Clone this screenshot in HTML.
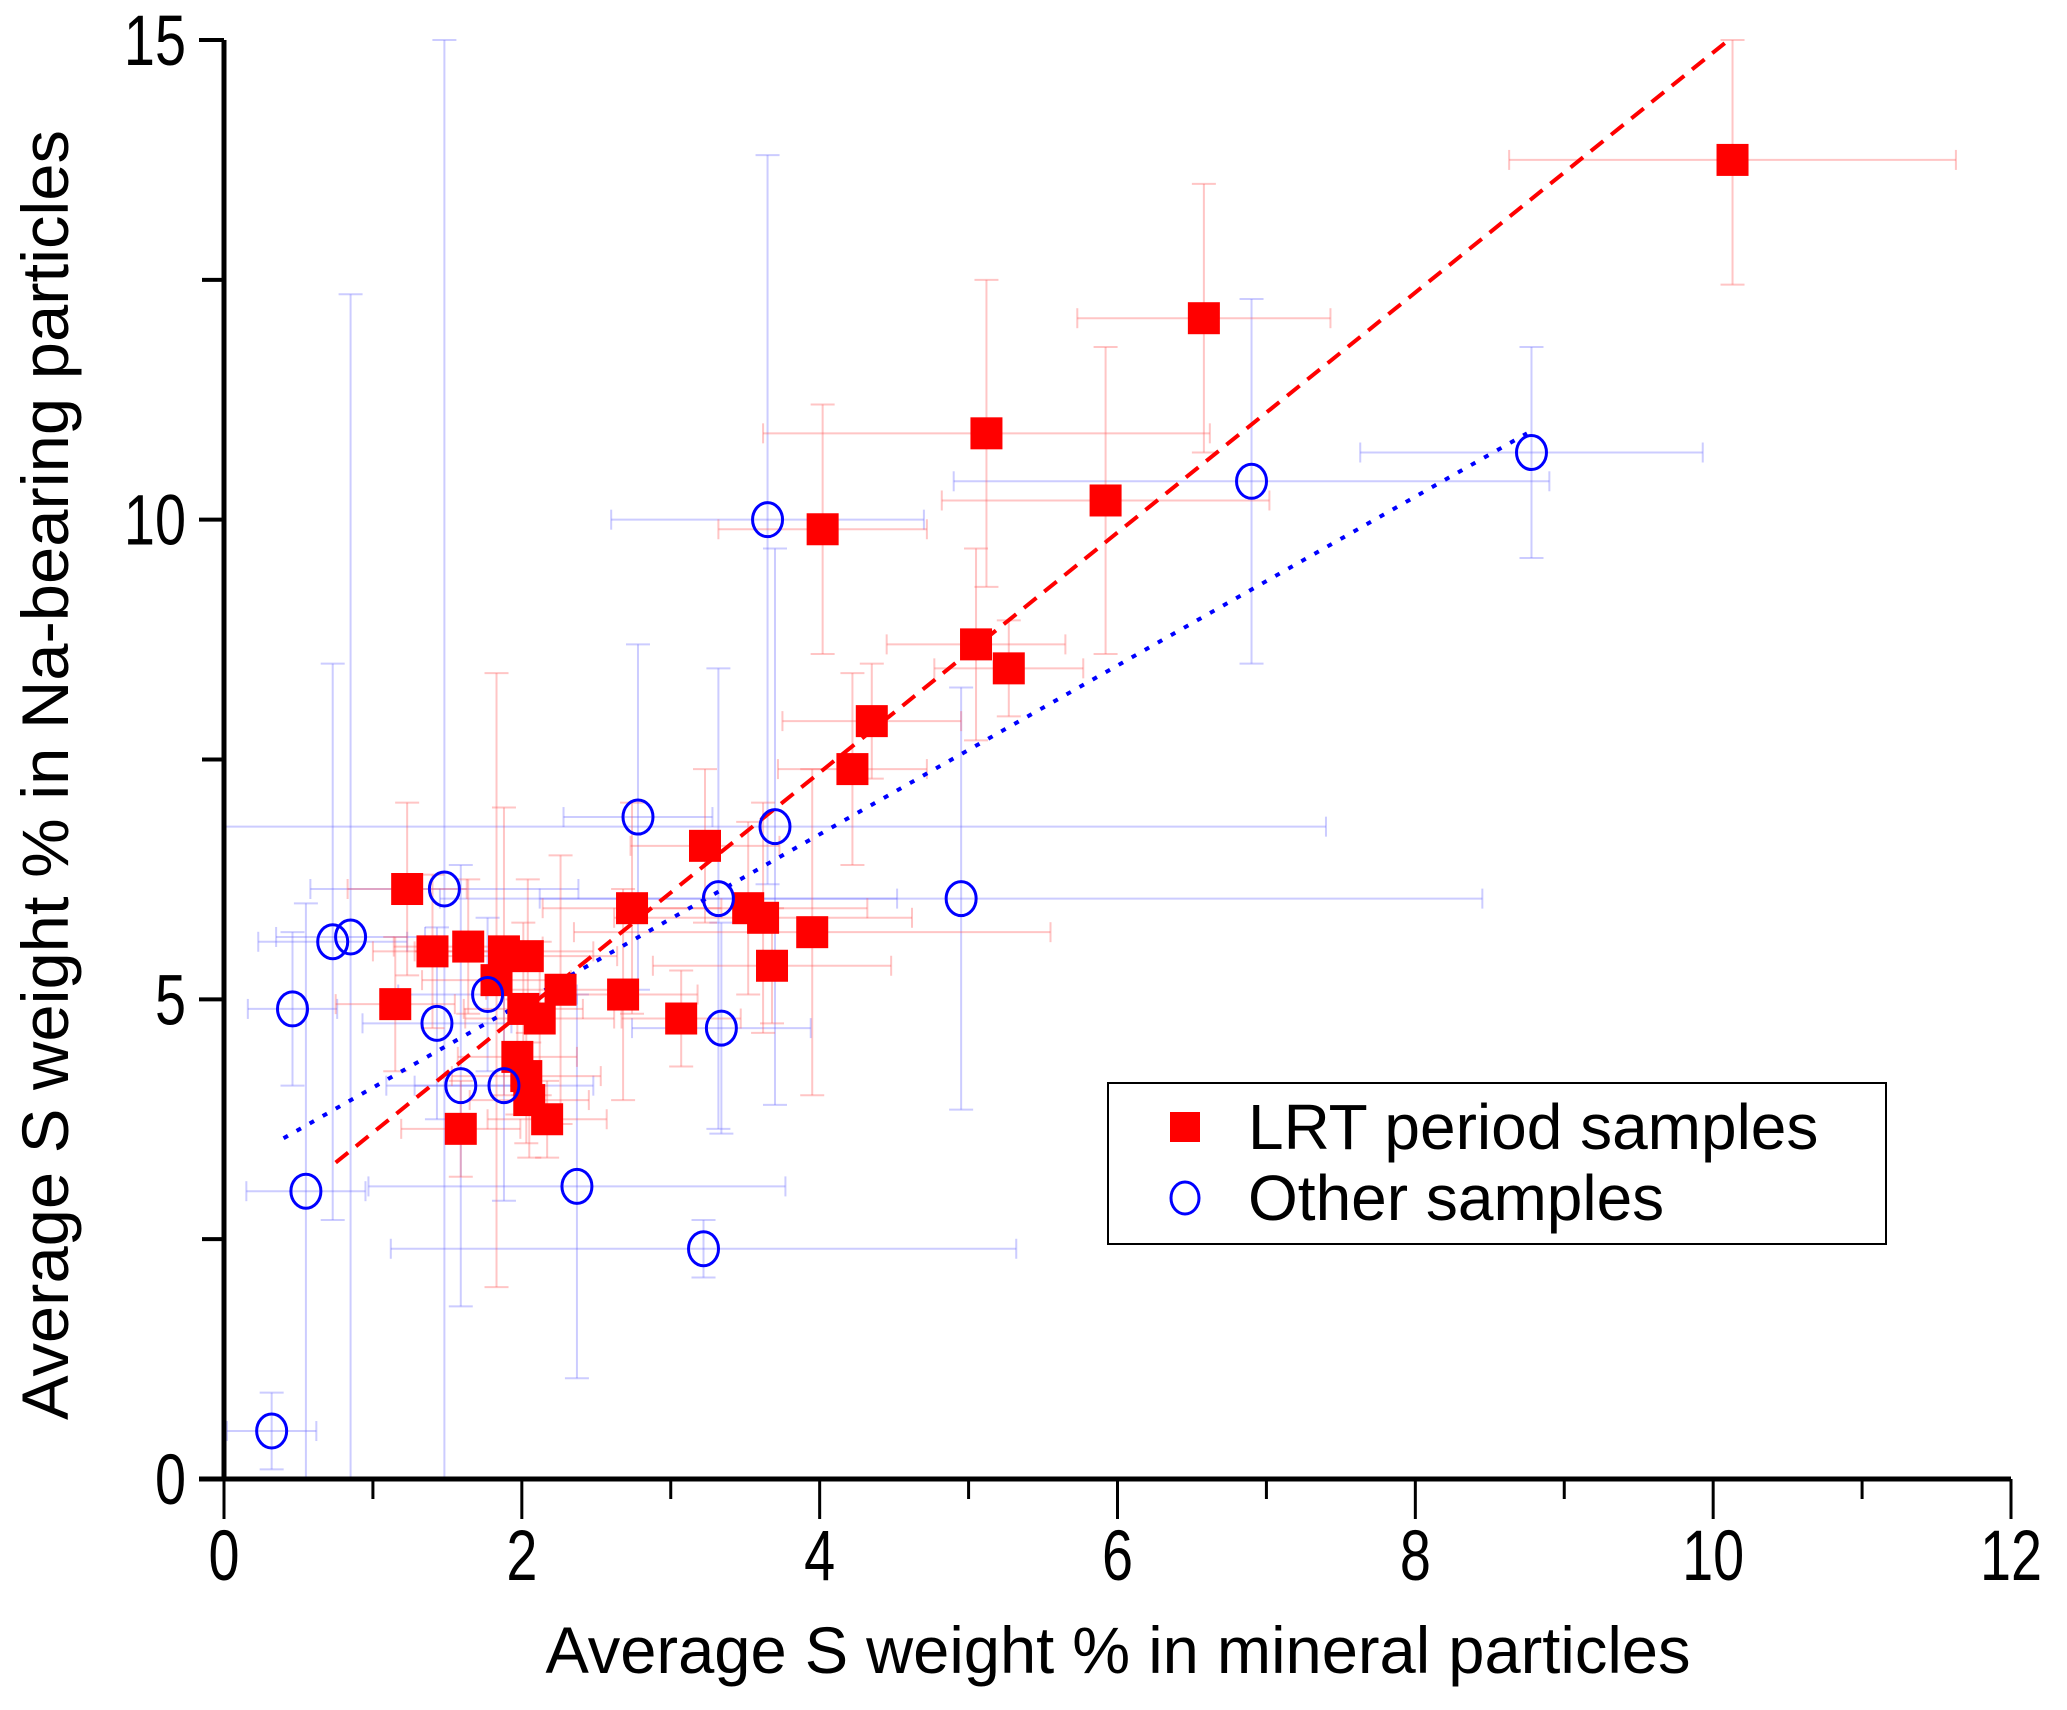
<!DOCTYPE html>
<html><head><meta charset="utf-8"><style>
html,body{margin:0;padding:0;background:#fff;}
svg text{font-family:"Liberation Sans",Arial,sans-serif;}
</style></head><body>
<svg id="chart" width="2067" height="1705" viewBox="0 0 2067 1705" xmlns="http://www.w3.org/2000/svg">
<g id="errs"></g>
<g id="fits"></g>
<g id="marks"></g>
<g id="axes"></g>
<g>
<rect x="1108" y="1083" width="778" height="161" fill="#fff" stroke="#000" stroke-width="2"/>
<rect x="1170" y="1112" width="30" height="30" fill="#f00"/>
<text x="1248" y="1149" font-size="64">LRT period samples</text>
<ellipse cx="1185" cy="1198" rx="14" ry="16" fill="none" stroke="#00f" stroke-width="3"/>
<text x="1248" y="1220" font-size="64">Other samples</text>
</g>
<text x="1118" y="1673" font-size="66" text-anchor="middle" textLength="1145" lengthAdjust="spacingAndGlyphs">Average S weight % in mineral particles</text>
<text transform="translate(68,775) rotate(-90)" font-size="66" text-anchor="middle" textLength="1290" lengthAdjust="spacingAndGlyphs">Average S weight % in Na-bearing particles</text>
</svg>
<script>
// LRT (red) series
const redX = [10.13,6.58,5.12,5.92,4.02,5.05,5.27,4.35,4.22,3.23,2.74,3.52,3.62,3.95,3.68,1.23,1.64,1.40,1.88,2.04,1.83,2.26,2.68,1.15,2.01,2.12,3.07,1.97,2.03,2.05,2.17,1.59];
const redY = [13.75,12.1,10.9,10.2,9.9,8.7,8.45,7.9,7.4,6.6,5.95,5.95,5.85,5.7,5.35,6.15,5.55,5.5,5.5,5.45,5.2,5.1,5.05,4.95,4.9,4.8,4.8,4.4,4.2,3.95,3.75,3.65];
const redXErr = [1.5,0.85,1.5,1.1,0.7,0.6,0.5,0.6,0.5,0.5,0.6,0.8,1.0,1.6,0.8,0.4,0.5,0.4,0.6,0.6,0.5,0.5,0.5,0.4,0.4,0.5,0.4,0.4,0.5,0.4,0.4,0.4];
const redYErr = [1.3,1.4,1.6,1.6,1.3,1.0,0.5,0.6,1.0,0.8,1.1,0.9,1.2,1.7,0.6,0.9,0.7,0.8,1.5,0.8,3.2,1.4,1.1,0.7,0.9,0.8,0.5,0.6,0.7,0.6,0.4,0.5];
// Other (blue) series
const blueX = [0.32,0.55,0.46,0.73,0.85,1.48,1.43,1.59,1.77,1.88,2.37,2.78,3.22,3.32,3.34,3.65,3.70,4.95,6.90,8.78];
const blueY = [0.5,3.0,4.9,5.6,5.65,6.15,4.75,4.1,5.05,4.1,3.05,6.9,2.4,6.05,4.7,10.0,6.8,6.05,10.4,10.7];
const blueXErr = [0.3,0.4,0.3,0.5,0.5,0.9,0.5,0.5,0.6,0.6,1.4,0.5,2.1,1.2,0.6,1.05,3.7,3.5,2.0,1.15];
const blueYErr = [0.4,3.0,0.8,2.9,6.7,8.9,1.0,2.3,0.8,1.2,2.0,1.8,0.3,2.4,1.1,3.8,2.9,2.2,1.9,1.1];
// fit lines [x0, x1, slope, intercept]
const redFit = [0.75,10.1,1.251,2.36];
const blueFit = [0.4,8.75,0.88,3.2];
const xTicks = [0,2,4,6,8,10,12];
const yTicks = [0,5,10,15];

const X0=224, X1=2011, Y0=1479, Y1=40;
const sx = v => X0 + v*(X1-X0)/12;
const sy = v => Y0 - v*(Y0-Y1)/15;
const NS="http://www.w3.org/2000/svg";
function mk(parent, tag, attrs){const e=document.createElementNS(NS,tag);for(const k in attrs)e.setAttribute(k,attrs[k]);parent.appendChild(e);return e;}
const errs=document.getElementById('errs'), marks=document.getElementById('marks'), axes=document.getElementById('axes'), fits=document.getElementById('fits');
function clipY(v){return Math.max(0,Math.min(15,v));}
function errBar(x,y,ex,ey,col){
  const g=mk(errs,'g',{stroke:col,'stroke-width':2,fill:'none'});
  
  
  const xl=Math.max(0,x-ex), xr=x+ex, yb=clipY(y-ey), yt=clipY(y+ey);
  mk(g,'line',{x1:sx(xl),y1:sy(y),x2:sx(xr),y2:sy(y)});
  mk(g,'line',{x1:sx(x),y1:sy(yb),x2:sx(x),y2:sy(yt)});
  mk(g,'line',{x1:sx(x)-12,y1:sy(yb),x2:sx(x)+12,y2:sy(yb)});
  mk(g,'line',{x1:sx(x)-12,y1:sy(yt),x2:sx(x)+12,y2:sy(yt)});
  mk(g,'line',{x1:sx(xl),y1:sy(y)-10,x2:sx(xl),y2:sy(y)+10});
  mk(g,'line',{x1:sx(xr),y1:sy(y)-10,x2:sx(xr),y2:sy(y)+10});
}
blueX.forEach((x,i)=>errBar(x,blueY[i],blueXErr[i],blueYErr[i],'rgba(110,110,255,0.35)'));
redX.forEach((x,i)=>errBar(x,redY[i],redXErr[i],redYErr[i],'rgba(255,90,90,0.35)'));
function fit(f,col,dash,name){
  const l=mk(fits,'line',{x1:sx(f[0]),y1:sy(f[2]*f[0]+f[3]),x2:sx(f[1]),y2:sy(f[2]*f[1]+f[3]),stroke:col,'stroke-width':4,'stroke-dasharray':dash});
  
  
}
fit(redFit,'#f00','16 10','fit-line-lrt');
fit(blueFit,'#00f','5 10','fit-line-other');
redX.forEach((x,i)=>{
  const r=mk(marks,'rect',{x:sx(x)-16,y:sy(redY[i])-16,width:32,height:32,fill:'#f00'});
  
  
});
blueX.forEach((x,i)=>{
  const c=mk(marks,'ellipse',{cx:sx(x),cy:sy(blueY[i]),rx:15,ry:17,fill:'none',stroke:'#00f','stroke-width':3});
  
  
});
// axes
const xa=mk(axes,'line',{x1:X0-25,y1:Y0,x2:X1,y2:Y0,stroke:'#000','stroke-width':5});


const ya=mk(axes,'line',{x1:X0,y1:Y1,x2:X0,y2:Y0,stroke:'#000','stroke-width':5});


for(let v=1;v<=11;v+=2){mk(axes,'line',{x1:sx(v),y1:Y0,x2:sx(v),y2:Y0+20,stroke:'#000','stroke-width':3});}
xTicks.forEach(v=>{
  mk(axes,'line',{x1:sx(v),y1:Y0,x2:sx(v),y2:Y0+40,stroke:'#000','stroke-width':3});
  const t=mk(axes,'text',{transform:`translate(${sx(v)},1580) scale(0.9,1.15)`,'font-size':62,'text-anchor':'middle'});
  t.textContent=v;
  
  
});
for(let v=2.5;v<15;v+=5){mk(axes,'line',{x1:X0-22,y1:sy(v),x2:X0,y2:sy(v),stroke:'#000','stroke-width':4});}
yTicks.forEach(v=>{
  mk(axes,'line',{x1:X0-25,y1:sy(v),x2:X0,y2:sy(v),stroke:'#000','stroke-width':4});
  const t=mk(axes,'text',{transform:`translate(186,${sy(v)+25}) scale(0.9,1.15)`,'font-size':62,'text-anchor':'end'});
  t.textContent=v;
  
  
});
</script>
</body></html>
